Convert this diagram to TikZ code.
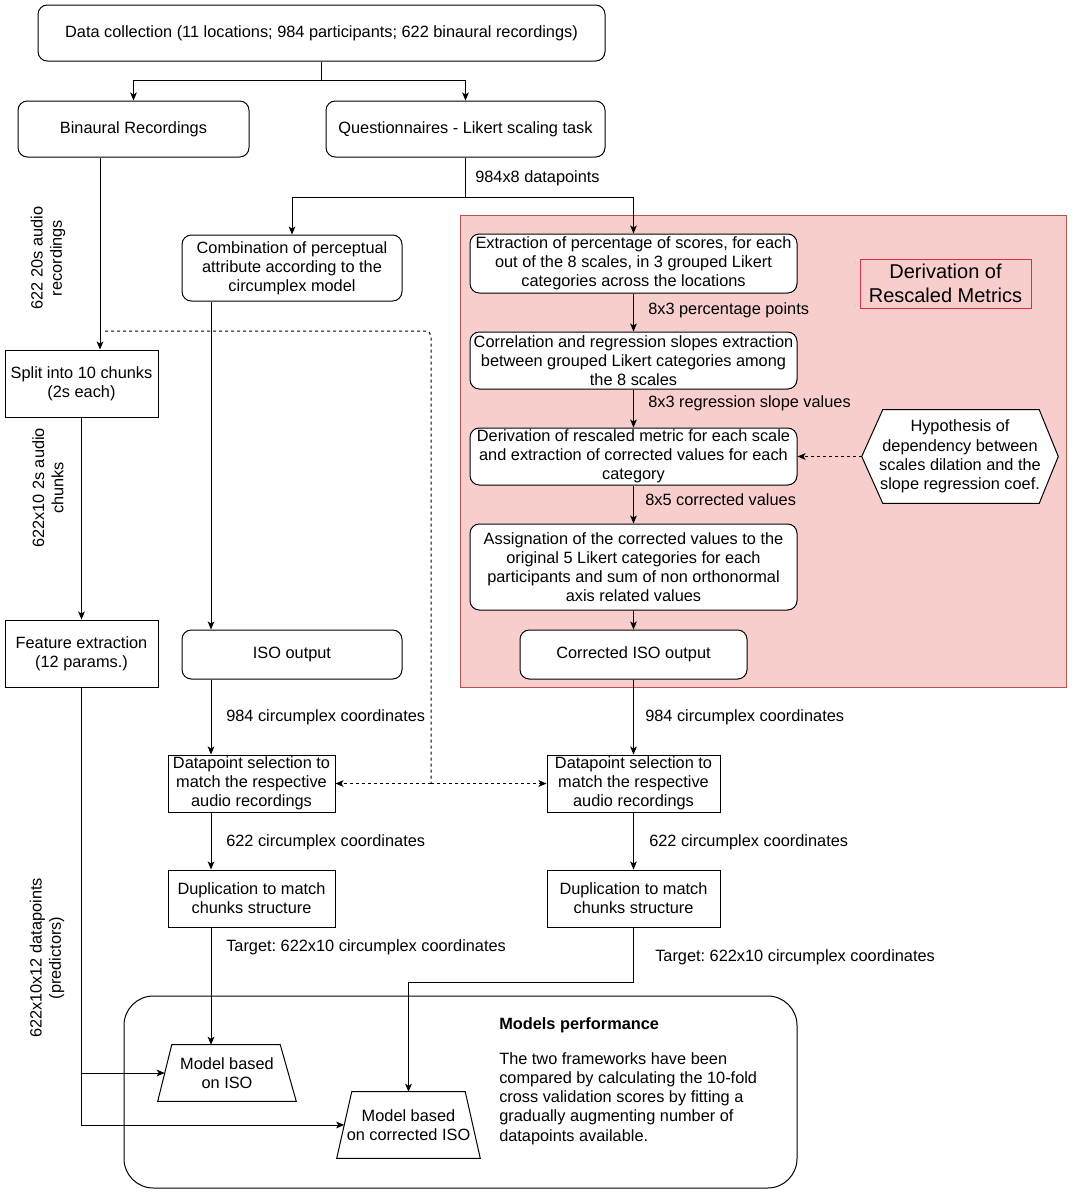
\documentclass[tikz,border=0pt]{standalone}
\usepackage{fontspec}
\setmainfont{Liberation Sans}
\usetikzlibrary{arrows.meta,calc}
\definecolor{pinkfill}{HTML}{F8CECC}
\definecolor{pinkline}{HTML}{B85450}
\definecolor{redline}{HTML}{D9304A}
\begin{document}
\frenchspacing
\begin{tikzpicture}[x=0.75pt,y=-0.75pt,
  every node/.style={font=\fontsize{12.25}{14.4}\selectfont},
  rbox/.style={draw, fill=white, rounded corners=7pt, inner sep=0pt, align=center, line width=0.75pt},
  sbox/.style={draw, fill=white, inner sep=0pt, align=center, line width=0.75pt},
  lbl/.style={anchor=west, inner sep=0pt},
  rlbl/.style={rotate=90, align=center, inner sep=0pt},
  conn/.style={line width=0.75pt},
  arr/.style={conn, -{Stealth[length=6pt,width=5pt,inset=1.5pt]}},
  dsh/.style={dash pattern=on 2.25pt off 2.25pt},
  ghost/.style={inner sep=0pt, align=center}
]
\useasboundingbox (0,0) rectangle (1084,1193);
\fill[white] (0,0) rectangle (1084,1193);

% pink region
\node[draw=pinkline, fill=pinkfill, line width=0.75pt, inner sep=0pt, minimum width=454.5pt, minimum height=354pt] (pinkreg) at (763,451) {};
\node[draw=redline, line width=0.75pt, inner sep=0pt, align=center, font=\fontsize{15}{18}\selectfont, minimum width=128.25pt, minimum height=36.75pt] (dtitle) at (945.5,283.5) {Derivation of\\Rescaled Metrics};

% boxes
\node[rbox, minimum width=425.25pt, minimum height=42pt] (dc) at (321.5,33) {Data collection (11 locations; 984 participants; 622 binaural recordings)};
\node[rbox, minimum width=173.25pt, minimum height=42pt] (br) at (133.5,129) {Binaural Recordings};
\node[rbox, minimum width=209.25pt, minimum height=42pt] (q) at (465.5,129) {Questionnaires - Likert scaling task};
\node[rbox, minimum width=165pt, minimum height=49.5pt] (comb) at (292,268) {Combination of perceptual\\attribute according to the\\circumplex model};
\node[rbox, minimum width=245.25pt, minimum height=44.25pt] (ext) at (633.5,263.5) {Extraction of percentage of scores, for each\\out of the 8 scales, in 3 grouped Likert\\categories across the locations};
\node[rbox, minimum width=245.25pt, minimum height=42.75pt] (corr) at (633.5,360.5) {Correlation and regression slopes extraction\\between grouped Likert categories among\\the 8 scales};
\node[rbox, minimum width=245.25pt, minimum height=42.75pt] (deriv) at (633.5,456.5) {Derivation of rescaled metric for each scale\\and extraction of corrected values for each\\category};
\node[rbox, minimum width=245.25pt, minimum height=64.5pt] (assig) at (633.5,567) {Assignation of the corrected values to the\\original 5 Likert categories for each\\participants and sum of non orthonormal\\axis related values};
\node[rbox, minimum width=170.25pt, minimum height=36.75pt] (ciso) at (633.5,654.5) {Corrected ISO output};
\node[sbox, minimum width=114.75pt, minimum height=50.25pt] (split) at (81.5,383.5) {Split into 10 chunks\\(2s each)};
\node[sbox, minimum width=114.75pt, minimum height=50.25pt] (feat) at (81.5,653.5) {Feature extraction\\(12 params.)};
\node[rbox, minimum width=165pt, minimum height=36.75pt] (iso) at (292,654.5) {ISO output};
\node[sbox, minimum width=125.25pt, minimum height=42.75pt] (dsL) at (251.5,783.5) {Datapoint selection to\\match the respective\\audio recordings};
\node[sbox, minimum width=125.25pt, minimum height=42.75pt] (dupL) at (251.5,898.5) {Duplication to match\\chunks structure};
\node[sbox, minimum width=129.75pt, minimum height=42.75pt] (dsR) at (633.5,783.5) {Datapoint selection to\\match the respective\\audio recordings};
\node[sbox, minimum width=129.75pt, minimum height=42.75pt] (dupR) at (633.5,898.5) {Duplication to match\\chunks structure};

% hexagon
\node[ghost, minimum width=147pt, minimum height=69.75pt] (hex) at (960,456.5) {};
\draw[fill=white, line width=0.75pt] (hex.west) -- ($(hex.north west)+(21,0)$) -- ($(hex.north east)+(-19,0)$) -- (hex.east) -- ($(hex.south east)+(-19,0)$) -- ($(hex.south west)+(21,0)$) -- cycle;
\node[ghost] at (hex.center) {Hypothesis of\\dependency between\\scales dilation and the\\slope regression coef.};

% models performance
\node[draw, rounded corners=22pt, line width=0.75pt, inner sep=0pt, minimum width=504.75pt, minimum height=144pt] (mp) at (460.5,1092) {};
\node[lbl, font=\fontsize{12.25}{14.4}\selectfont\bfseries] (mpt) at (499,1025) {Models performance};
\node[lbl, align=left] (mpx) at (499,1098.5) {The two frameworks have been\\compared by calculating the 10-fold\\cross validation scores by fitting a\\gradually augmenting number of\\datapoints available.};

% trapezoids
\node[ghost, minimum width=103.5pt, minimum height=42pt] (miso) at (227,1073) {};
\draw[fill=white, line width=0.75pt] (miso.south west) -- (miso.south east) -- ($(miso.north east)+(-16,0)$) -- ($(miso.north west)+(14,0)$) -- cycle;
\node[ghost] at (miso.center) {Model based\\on ISO};
\node[ghost, minimum width=107.25pt, minimum height=49.5pt] (mciso) at (408.5,1125) {};
\draw[fill=white, line width=0.75pt] (mciso.south west) -- (mciso.south east) -- ($(mciso.north east)+(-15,0)$) -- ($(mciso.north west)+(15,0)$) -- cycle;
\node[ghost] at (mciso.center) {Model based\\on corrected ISO};

% helper coordinates
\coordinate (j1) at (321.5,80);
\coordinate (j2) at (465.5,197);
\coordinate (x100) at (100,0);
\coordinate (x211) at (211,0);
\coordinate (y982) at (0,982);
\coordinate (dstart) at (105,331);
\coordinate (dj) at (431,783.5);

% top connectors
\draw[conn] (dc.south) -- (j1);
\draw[arr] (j1) -| (br.north);
\draw[arr] (j1) -| (q.north);
\draw[conn] (q.south) -- (j2);
\draw[arr] (j2) -| (comb.north);
\draw[arr] (j2) -| (ext.north);
\node[lbl] (t1) at (475,178) {984x8 datapoints};

% right column
\draw[arr] (ext.south) -- (corr.north);
\node[lbl] (t2) at (648,310) {8x3 percentage points};
\draw[arr] (corr.south) -- (deriv.north);
\node[lbl] (t3) at (648,403) {8x3 regression slope values};
\draw[arr] (deriv.south) -- (assig.north);
\node[lbl] (t4) at (645,500) {8x5 corrected values};
\draw[arr] (assig.south) -- (ciso.north);
\draw[arr, dsh] (hex.west) -- (deriv.east);
\draw[arr] (ciso.south) -- (dsR.north);
\node[lbl] (t5) at (645,717) {984 circumplex coordinates};
\draw[arr] (dsR.south) -- (dupR.north);
\node[lbl] (t6) at (649,842) {622 circumplex coordinates};
\draw[arr] (dupR.south) |- (mciso.north |- y982) -- (mciso.north);
\node[lbl] (t7) at (655,957) {Target: 622x10 circumplex coordinates};

% left column
\draw[arr] (br.south -| x100) -- (split.north -| x100);
\node[rlbl] (r1) at (48,258) {622 20s audio\\recordings};
\draw[arr] (split.south) -- (feat.north);
\node[rlbl] (r2) at (48,488) {622x10 2s audio\\chunks};
\draw[arr] (feat.south) |- ($(mciso.west)+(7.5,0)$);
\draw[arr] (feat.south |- miso.west) -- ($(miso.west)+(7,0)$);
\node[rlbl] (r3) at (47,958) {622x10x12 datapoints\\(predictors)};

% middle column
\draw[arr] (comb.south -| x211) -- (iso.north -| x211);
\draw[arr] (iso.south -| x211) -- (dsL.north -| x211);
\node[lbl] (t8) at (226,717) {984 circumplex coordinates};
\draw[arr] (dsL.south -| x211) -- (dupL.north -| x211);
\node[lbl] (t9) at (226,842) {622 circumplex coordinates};
\draw[arr] (dupL.south -| x211) -- (miso.north -| x211);
\node[lbl] (t10) at (226,947) {Target: 622x10 circumplex coordinates};

% dashed link
\draw[conn, dsh, rounded corners=4pt] (dstart) -| (dj);
\draw[arr, dsh] (dj) -- (dsL.east);
\draw[arr, dsh] (dj) -- (dsR.west);
\end{tikzpicture}
\end{document}
